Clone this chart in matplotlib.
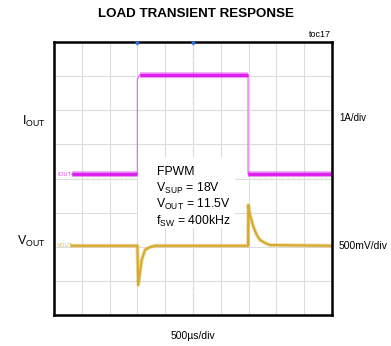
import matplotlib
matplotlib.use("Agg")
import matplotlib.pyplot as plt
from matplotlib.patches import Rectangle

plt.rcParams['font.family'] = ['Liberation Sans', 'DejaVu Sans']
plt.rcParams['mathtext.default'] = 'regular'

# ---- data ----
# time in microseconds (500 us/div, 10 divisions)
iout_t = [320, 1500, 1500, 1540, 3490, 3490, 5000]
iout_a = [0.12, 0.12, 2.90, 3.04, 3.04, 0.12, 0.12]      # A (1 A/div)

vout_t = [300, 1500, 1515, 1577, 1637, 1727, 1817, 3490, 3495, 3525, 3585,
          3645, 3705, 3795, 3885, 5000]
vout_v = [11.5, 11.5, 10.925, 11.29, 11.44, 11.48, 11.5, 11.5, 12.095, 11.95,
          11.78, 11.66, 11.585, 11.54, 11.51, 11.5]      # V (500 mV/div)

IOUT_ZERO_DIV = 4.0
IOUT_SCALE = 1.0       # A/div
VOUT_REF = 11.5
VOUT_REF_DIV = 2.03
VOUT_SCALE = 0.5       # V/div

n_xdiv = 10
n_ydiv = 8
tdiv = 500

title = "LOAD TRANSIENT RESPONSE"
cond_lines = ["FPWM", r"V$_{SUP}$ = 18V", r"V$_{OUT}$ = 11.5V", r"f$_{SW}$ = 400kHz"]

W, H = 391, 346
fig = plt.figure(figsize=(W / 100, H / 100), dpi=100)
L, R, T, B = 54, 332, 42, 315
ax = fig.add_axes([L / W, 1 - B / H, (R - L) / W, (B - T) / H])
ax.set_xlim(0, n_xdiv * tdiv)
ax.set_ylim(0, n_ydiv)
ax.set_xticks([])
ax.set_yticks([])
for s in ax.spines.values():
    s.set_linewidth(1.8)
    s.set_color('black')
    s.set_zorder(10)

grid_c = '#dcdcdc'
for i in range(1, n_xdiv):
    ax.axvline(i * tdiv, color=grid_c, lw=0.8, zorder=1)
for j in range(1, n_ydiv):
    ax.axhline(j, color=grid_c, lw=0.8, zorder=1)
# minor ticks on the centre cross
cx = n_xdiv * tdiv / 2
for k in range(1, n_ydiv * 5):
    ax.plot([cx - 20, cx + 20], [k / 5, k / 5], color='#e4e4e4', lw=0.5, zorder=1)
for k in range(1, n_xdiv * 5):
    ax.plot([k * tdiv / 5] * 2, [4 - 0.05, 4 + 0.05], color='#e4e4e4', lw=0.5, zorder=1)

# white box behind the conditions text
ax.add_patch(Rectangle((1511, 2.55), 3255 - 1511, 4.63 - 2.55, facecolor='white',
                       edgecolor='none', zorder=2))

mag = '#dd22f0'
gold = '#d6aa2c'

iy = [IOUT_ZERO_DIV + a / IOUT_SCALE for a in iout_a]
vy = [VOUT_REF_DIV + (v - VOUT_REF) / VOUT_SCALE for v in vout_v]

# thin full trace
ax.plot(iout_t, iy, color='#e070f0', lw=0.9, zorder=3)
# thick plateaus (noise band)
for a, b in [(0, 2), (3, 5), (5, 7)]:
    ax.plot(iout_t[a:b], iy[a:b], color=mag, lw=4.0, alpha=0.45, zorder=3,
            solid_capstyle='butt')
    ax.plot(iout_t[a:b], iy[a:b], color=mag, lw=2.4, zorder=4, solid_capstyle='butt')

ax.plot(vout_t, vy, color=gold, lw=2.8, alpha=0.4, zorder=3, solid_capstyle='butt')
ax.plot(vout_t, vy, color=gold, lw=1.5, zorder=4, solid_capstyle='butt')

# channel markers
ax.text(60, IOUT_ZERO_DIV + iout_a[0], "IOUT", color=mag, fontsize=4.2,
        va='center', ha='left', family='DejaVu Sans', alpha=0.8)
ax.text(60, VOUT_REF_DIV, "VOUT", color=gold, fontsize=4.2,
        va='center', ha='left', family='DejaVu Sans', alpha=0.8)
# trigger markers
ax.plot([1500, 2500], [7.96, 7.96], ls='none', marker='v', ms=2.2, color='#2a6ad8',
        zorder=11, clip_on=False)

def px(x, y):
    return x / W, 1 - y / H

fig.text(*px(196, 14), title, ha='center', va='center', fontsize=9.6,
         fontweight='bold')
fig.text(*px(331, 34.5), "toc17", ha='right', va='center', fontsize=6.5)

for i, s in enumerate(cond_lines):
    fig.text(*px(156.5, 175 + i * 16.6), s, ha='left', va='baseline', fontsize=8.8)

fig.text(*px(46, 125), r"I$_{OUT}$", ha='right', va='baseline', fontsize=9)
fig.text(*px(46, 245), r"V$_{OUT}$", ha='right', va='baseline', fontsize=9)
fig.text(*px(339, 121), "1A/div", ha='left', va='baseline', fontsize=7)
fig.text(*px(339, 249), "500mV/div", ha='left', va='baseline', fontsize=7.5)
fig.text(*px(193, 339), u"500\u00b5s/div", ha='center', va='baseline', fontsize=7.5)

fig.savefig("out.png", dpi=100)
